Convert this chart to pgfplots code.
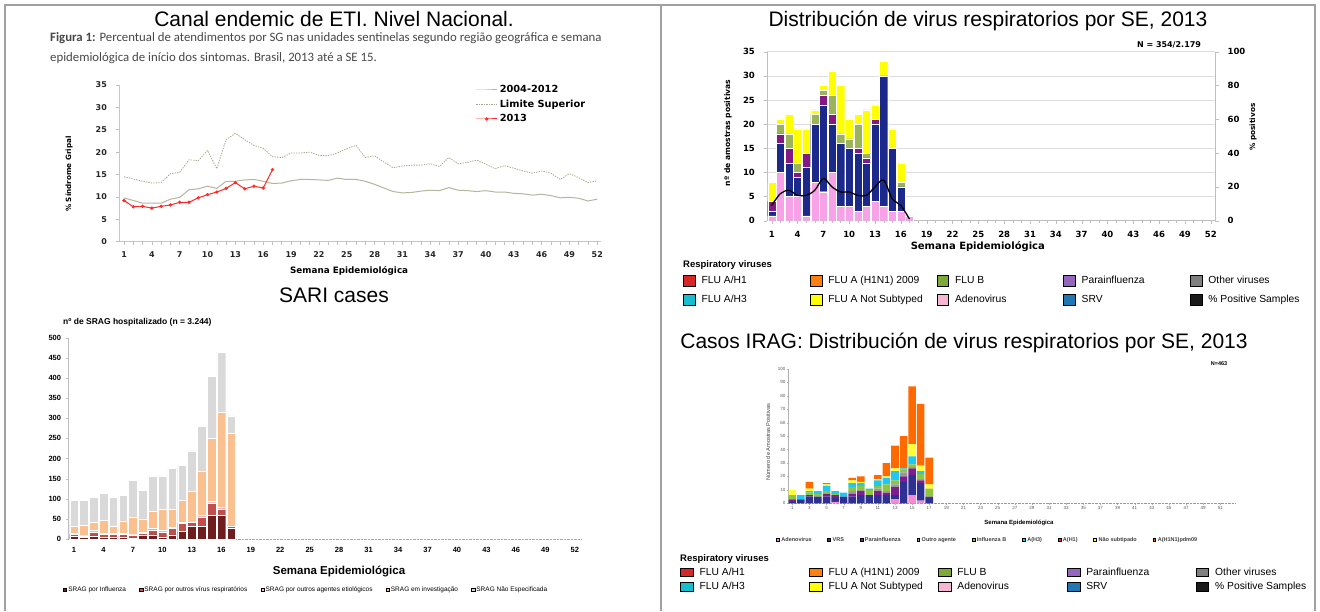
\documentclass[border=0pt]{standalone}
\usepackage{pgfplots}
\pgfplotsset{compat=1.18}
\usepackage{pgfplotstable}
\usepackage{fontspec}
\setmainfont{Liberation Sans}
\newfontfamily\carlito{Carlito}
\newfontfamily\dvs{DejaVu Sans}
\newcommand{\fs}[1]{\fontsize{#1}{#1}\selectfont}
\definecolor{avgc}{HTML}{B5B5A0}
\definecolor{limc}{HTML}{A8A68A}
\definecolor{redc}{HTML}{FF2A2A}
\definecolor{framec}{HTML}{A0A0A0}
\definecolor{sInf}{HTML}{6E1E1E}
\definecolor{sVir}{HTML}{C0504D}
\definecolor{sOag}{HTML}{F2C2C8}
\definecolor{sInv}{HTML}{FAC090}
\definecolor{sNao}{HTML}{D9D9D9}
\definecolor{tPink}{HTML}{F7A1E6}
\definecolor{tNavy}{HTML}{1B2A8A}
\definecolor{tPurp}{HTML}{831A83}
\definecolor{tGreen}{HTML}{9BB35A}
\definecolor{tYel}{HTML}{FFFF00}
\definecolor{lH1}{HTML}{D62728}
\definecolor{lPdm}{HTML}{FF7F0E}
\definecolor{lB}{HTML}{7FA83A}
\definecolor{lPara}{HTML}{9467BD}
\definecolor{lOth}{HTML}{808080}
\definecolor{lH3}{HTML}{17BECF}
\definecolor{lNS}{HTML}{FFFF00}
\definecolor{lAdeno}{HTML}{F7B6D2}
\definecolor{lSRV}{HTML}{1F77B4}
\definecolor{lPos}{HTML}{1A1A1A}
\definecolor{qAdeno}{HTML}{F58AD0}
\definecolor{qVRS}{HTML}{2E3192}
\definecolor{qPara}{HTML}{7B1F8E}
\definecolor{qOut}{HTML}{9A9A9A}
\definecolor{qB}{HTML}{8DC63F}
\definecolor{qH3}{HTML}{1EC8F0}
\definecolor{qH1}{HTML}{FF2020}
\definecolor{qNS}{HTML}{FFFF33}
\definecolor{qPdm}{HTML}{FF6A00}

\pgfplotstableread{
w avg lim
1 9.8 14.5
2 9.2 14.0
3 8.6 13.5
4 8.6 13.1
5 8.6 13.2
6 9.5 15.2
7 9.9 15.5
8 11.6 18.3
9 11.8 18.1
10 12.4 20.4
11 11.9 16.3
12 13.5 22.8
13 13.5 24.2
14 13.8 22.8
15 13.9 21.5
16 13.5 20.8
17 13.0 19.0
18 13.1 18.8
19 13.6 19.8
20 13.9 19.8
21 13.9 20.0
22 13.8 19.3
23 13.7 19.2
24 14.2 19.8
25 13.9 20.8
26 13.9 21.5
27 13.5 18.8
28 12.8 19.2
29 12.0 17.8
30 11.2 16.5
31 10.9 16.9
32 11.0 17.1
33 11.3 17.1
34 11.5 17.4
35 11.4 16.8
36 12.1 18.8
37 11.5 17.4
38 11.4 17.7
39 11.2 18.2
40 11.4 17.3
41 11.1 16.3
42 11.1 17.0
43 10.8 16.4
44 10.7 15.8
45 10.4 15.3
46 10.6 15.8
47 10.3 15.3
48 9.8 13.9
49 9.9 15.2
50 9.7 14.3
51 9.1 13.2
52 9.5 13.6
}\etiTab

\pgfplotstableread{
w v
1 9.2
2 7.8
3 7.9
4 7.5
5 7.9
6 8.2
7 8.8
8 8.8
9 9.8
10 10.5
11 11.1
12 11.9
13 13.2
14 11.8
15 12.4
16 12.0
17 16.1
}\etiRed

\pgfplotstableread{
w inf vir oag inv nao
1 6 6 3 18 63
2 4 4 2 24 62
3 8 10 3 21 61
4 4 8 2 33 67
5 5 7 2 19 70
6 5 7 2 31 63
7 3 7 2 43 91
8 9 5 3 33 71
9 10 13 3 43 88
10 5 13 4 52 83
11 10 16 3 46 100
12 19 20 2 55 87
13 32 9 2 75 101
14 32 23 4 110 112
15 59 30 5 157 153
16 59 16 3 237 149
17 27 6 2 227 44
}\sariTab

\pgfplotstableread{
w pink navy purp green yel pct
1 1 1 2 0 4 9
2 10 6 2 2 1 16
3 5 7 3 3 4 18
4 5 4 1 2 7 15
5 1 10 3 0 5 15
6 8 12 0 2 1 18
7 6 18 2 1 1 25
8 10 10 2 4 5 20
9 3 13 0 2 10 17
10 3 12 0 2 4 17
11 2 12 1 5 2 15
12 3 9 1 1 9 15
13 4 16 1 0 3 20
14 3 27 0 0 3 24
15 2 13 0 0 4 13
16 2 5 0 1 4 9
17 1 0 0 0 0 1
}\virTab

\pgfplotstableread{
w adeno vrs para outro flub hthree hone ns pdm
1 0 1 2 0 3 0 0 4 0
2 0 3 0 0 0 3 0 0 0
3 0 5 1 0 2 1 0 2 5
4 0 5 0 0 2 2 0 0 0
5 0 5 2 0 2 4 0 1 1
6 1 3 2 0 1 2 0 0 0
7 0 5 0 0 0 3 0 0 0
8 0 5 2 2 3 3 0 2 2
9 0 6 3 1 3 2 0 1 4
10 0 6 0 0 4 1 0 0 0
11 0 6 3 2 2 4 0 1 3
12 0 6 2 1 5 5 0 1 10
13 3 3 6 2 3 7 0 2 17
14 0 16 4 3 2 1 0 0 24
15 6 15 5 1 2 6 0 9 43
16 2 13 2 1 4 2 0 4 46
17 0 4 1 0 6 0 0 3 20
}\iragTab

\begin{document}
\begin{tikzpicture}[x=1pt,y=1pt]
\path[use as bounding box] (0,0) rectangle (1320,611);
\fill[white] (0,0) rectangle (1320,611);
\draw[framec, line width=2pt] (5,0) -- (5,606) -- (1315,606) -- (1315,0);
\draw[framec, line width=2pt] (661,0) -- (661,606);

% ---------- Titles and texts ----------
\node[font=\fs{21}, inner sep=0pt] at (334,592) {Canal endemic de ETI. Nivel Nacional.};
\node[anchor=west, font=\carlito\fs{12.8}, text=black!72, inner sep=0pt] at (50,573) {\textbf{Figura 1:} Percentual de atendimentos por SG nas unidades sentinelas segundo região geográfica e semana};
\node[anchor=west, font=\carlito\fs{12.8}, text=black!72, inner sep=0pt] at (50,553) {epidemiológica de início dos sintomas. Brasil, 2013 até a SE 15.};
\node[font=\fs{21}] at (334,316) {SARI cases};
\node[anchor=west, font=\bfseries\fs{8.5}, inner sep=0pt] at (63,289) {nº de SRAG hospitalizado (n = 3.244)};
\node[font=\fs{21}] at (988,590) {Distribución de virus respiratorios por SE, 2013};
\node[font=\dvs\bfseries\fs{8}] at (1169,566) {N = 354/2.179};
\node[font=\fs{21}] at (964,268) {Casos IRAG: Distribución de virus respiratorios por SE, 2013};
\node[font=\bfseries\fs{5.5}] at (1219,247) {N=463};
\node[anchor=west, font=\bfseries\fs{9.5}, inner sep=0pt] at (683,346) {Respiratory viruses};
\node[anchor=west, font=\bfseries\fs{9.5}, inner sep=0pt] at (680,52) {Respiratory viruses};

% ---------- Panel 1: ETI endemic channel ----------
\begin{axis}[
 at={(119.4pt,369.3pt)}, anchor=south west, scale only axis,
 width=481.6pt, height=156.7pt,
 xmin=0.5, xmax=52.4, ymin=0, ymax=35,
 axis lines=left, axis line style={draw=black!22,-},
 xtick={1,4,...,52}, ytick={0,5,...,35}, minor xtick={1,...,52},
 tick style={draw=black!25, line width=0.6pt},
 major tick length=3pt, minor tick length=3pt, tick align=outside,
 ticklabel style={font=\dvs\bfseries\fs{8}, text=black!85},
 /pgf/number format/assume math mode=true,
 xticklabel style={yshift=-3pt}, yticklabel style={xshift=-6pt},
 xlabel={Semana Epidemiológica}, ylabel={\% Síndrome Gripal},
 xlabel style={at={(axis description cs:0.477,-0.187)}, anchor=center, font=\dvs\bfseries\fs{8.8}},
 ylabel style={at={(axis description cs:-0.1047,0.432)}, anchor=center, font=\dvs\bfseries\fs{7.2}},
 legend style={at={(axis cs:38.88,35)}, anchor=north west, draw=none, fill=none,
   font=\dvs\bfseries\fs{9.8}, inner sep=0pt, row sep=4.9pt,
   nodes={inner sep=0pt, text height=7.4pt, text depth=2.2pt},
   /tikz/every odd column/.append style={column sep=2pt}},
 legend cell align=left,
 legend image code/.code={\draw[mark repeat=2,mark phase=2,#1] plot coordinates {(0pt,0pt) (10.5pt,0pt) (21pt,0pt)};},
]
\addplot[avgc, line width=1pt] table[x=w,y=avg]{\etiTab};
\addlegendentry{2004-2012}
\addplot[limc, line width=0.8pt, dash pattern=on 1.3pt off 1.2pt] table[x=w,y=lim]{\etiTab};
\addlegendentry{Limite Superior}
\addplot[redc, line width=1pt, mark=*, mark size=1.1pt, mark options={fill=redc}] table[x=w,y=v]{\etiRed};
\addlegendentry{2013}
\end{axis}

% ---------- Panel 2: SARI cases ----------
\begin{axis}[
 at={(68.1pt,72pt)}, anchor=south west, scale only axis,
 width=512.6pt, height=201.3pt,
 xmin=0.4, xmax=52.6, ymin=0, ymax=500,
 ybar stacked, bar width=0.88,
 axis x line=bottom, axis y line=left,
 x axis line style={draw=black!35, densely dotted,-},
 y axis line style={draw=black!25,-},
 xtick={1,4,...,52}, ytick={0,50,...,500},
 xtick style={draw=none}, ytick style={draw=black!25},
 major tick length=2.5pt, tick align=outside,
 ticklabel style={font=\bfseries\fs{7.5}},
 /pgf/number format/assume math mode=true,
 xticklabel style={yshift=-2pt}, yticklabel style={xshift=-1pt},
 xlabel={Semana Epidemiológica},
 xlabel style={at={(axis description cs:0.5285,-0.159)}, anchor=center, font=\bfseries\fs{11.5}},
]
\addplot[fill=sInf, draw=white, line width=0.2pt] table[x=w,y=inf]{\sariTab};
\addplot[fill=sVir, draw=white, line width=0.2pt] table[x=w,y=vir]{\sariTab};
\addplot[fill=sOag, draw=white, line width=0.2pt] table[x=w,y=oag]{\sariTab};
\addplot[fill=sInv, draw=white, line width=0.2pt] table[x=w,y=inv]{\sariTab};
\addplot[fill=sNao, draw=white, line width=0.2pt] table[x=w,y=nao]{\sariTab};
\end{axis}

% legend panel 2
\begin{axis}[hide axis, at={(0pt,0pt)}, anchor=south west, scale only axis,
 width=1320pt, height=611pt, xmin=0, xmax=1320, ymin=0, ymax=611,
 legend columns=5,
 legend image code/.code={\fill[#1] (0pt,-1.6pt) rectangle (3.2pt,1.6pt);},
 legend style={at={(axis cs:63,21)}, anchor=west, draw=none, fill=none, inner sep=0pt,
   font=\fs{6.5}, nodes={inner sep=0pt, text height=4.7pt, text depth=1pt},
   /tikz/every odd column/.append style={column sep=1.5pt},
   /tikz/every even column/.append style={column sep=13.2pt}},
 legend cell align=left]
\addlegendimage{fill=sInf}\addlegendentry{SRAG por Influenza}
\addlegendimage{fill=sVir}\addlegendentry{SRAG por outros vírus respiratórios}
\addlegendimage{fill=sOag}\addlegendentry{SRAG por outros agentes etiológicos}
\addlegendimage{fill=sInv}\addlegendentry{SRAG em investigação}
\addlegendimage{fill=sNao}\addlegendentry{SRAG Não Especificada}
\end{axis}

% ---------- Panel 3: virus distribution ----------
\begin{axis}[
 at={(767.4pt,390.3pt)}, anchor=south west, scale only axis,
 width=447.7pt, height=169pt,
 xmin=0.5, xmax=52.5, ymin=0, ymax=35,
 ybar stacked, bar width=0.94,
 axis x line=bottom, axis y line=left,
 axis line style={draw=black!25,-},
 ymajorgrids, grid style={draw=black!13, line width=0.6pt},
 xtick={1,4,...,52}, ytick={0,5,...,35}, minor xtick={1,...,52},
 tick style={draw=black!25}, tick align=outside,
 major tick length=3pt, minor tick length=2pt,
 ticklabel style={font=\dvs\bfseries\fs{8.5}},
 /pgf/number format/assume math mode=true,
 xticklabel style={yshift=-4pt}, yticklabel style={xshift=-6pt},
 xlabel={Semana Epidemiológica}, ylabel={nº de amostras positivas},
 xlabel style={at={(axis description cs:0.470,-0.156)}, anchor=center, font=\dvs\bfseries\fs{10}},
 ylabel style={at={(axis description cs:-0.088,0.519)}, anchor=center, font=\dvs\bfseries\fs{7.6}},
]
\addplot[fill=tPink, draw=white, line width=0.2pt] table[x=w,y=pink]{\virTab};
\addplot[fill=tNavy, draw=white, line width=0.2pt] table[x=w,y=navy]{\virTab};
\addplot[fill=tPurp, draw=white, line width=0.2pt] table[x=w,y=purp]{\virTab};
\addplot[fill=tGreen, draw=white, line width=0.2pt] table[x=w,y=green]{\virTab};
\addplot[fill=tYel, draw=white, line width=0.2pt] table[x=w,y=yel]{\virTab};
\end{axis}
\begin{axis}[
 at={(767.4pt,390.3pt)}, anchor=south west, scale only axis,
 width=447.7pt, height=169pt,
 xmin=0.5, xmax=52.5, ymin=0, ymax=100,
 axis y line*=right, axis x line=none,
 y axis line style={draw=black!25,-},
 ytick={0,20,...,100}, ytick style={draw=black!25}, tick align=outside, major tick length=4pt,
 ticklabel style={font=\dvs\bfseries\fs{8.5}},
 /pgf/number format/assume math mode=true,
 yticklabel style={xshift=5pt},
 ylabel={\% positivos},
 ylabel style={at={(axis description cs:1.0847,0.554)}, anchor=center, font=\dvs\bfseries\fs{7.3}},
]
\addplot[black, line width=1.3pt, smooth, tension=0.5] table[x=w,y=pct]{\virTab};
\end{axis}

% legend 1
\begin{axis}[hide axis, at={(0pt,0pt)}, anchor=south west, scale only axis,
 width=1320pt, height=611pt, xmin=0, xmax=1320, ymin=0, ymax=611,
 legend columns=5,
 legend image code/.code={\fill[#1] (0pt,-5.6pt) rectangle (11.8pt,5.6pt);},
 legend style={at={(axis cs:683,336.6)}, anchor=north west, draw=none, fill=none, inner sep=0pt,
   font=\fs{10.3}, row sep=7.8pt, nodes={inner sep=0pt, text height=7.4pt, text depth=1.6pt},
   /tikz/every odd column/.append style={column sep=6.2pt}},
 legend cell align=left]
\addlegendimage{fill=lH1}\addlegendentry{\makebox[108.3pt][l]{FLU A/H1}}
\addlegendimage{fill=lPdm}\addlegendentry{\makebox[108.3pt][l]{FLU A (H1N1) 2009}}
\addlegendimage{fill=lB}\addlegendentry{\makebox[108.3pt][l]{FLU B}}
\addlegendimage{fill=lPara}\addlegendentry{\makebox[108.3pt][l]{Parainfluenza}}
\addlegendimage{fill=lOth}\addlegendentry{\makebox[108.3pt][l]{Other viruses}}
\addlegendimage{fill=lH3}\addlegendentry{\makebox[108.3pt][l]{FLU A/H3}}
\addlegendimage{fill=lNS}\addlegendentry{\makebox[108.3pt][l]{FLU A Not Subtyped}}
\addlegendimage{fill=lAdeno}\addlegendentry{\makebox[108.3pt][l]{Adenovirus}}
\addlegendimage{fill=lSRV}\addlegendentry{\makebox[108.3pt][l]{SRV}}
\addlegendimage{fill=lPos}\addlegendentry{\makebox[108.3pt][l]{\% Positive Samples}}
\end{axis}

% ---------- Panel 4: IRAG ----------
\begin{axis}[
 at={(788pt,107.7pt)}, anchor=south west, scale only axis,
 width=446.8pt, height=134.3pt,
 xmin=0.5, xmax=52.7, ymin=0, ymax=100,
 ybar stacked, bar width=0.88,
 axis x line=bottom, axis y line=left,
 x axis line style={draw=black!40, densely dotted,-},
 y axis line style={draw=black!30,-},
 xtick={1,3,...,51}, ytick={0,10,...,100},
 tick style={draw=black!30}, tick align=outside, major tick length=1.5pt,
 ticklabel style={font=\fs{4.5}, text=black!65, inner sep=1pt},
 /pgf/number format/assume math mode=true,
 xlabel={Semana Epidemiológica}, ylabel={Número de Amostras Positivas},
 xlabel style={at={(axis description cs:0.517,-0.147)}, anchor=center, font=\bfseries\fs{6}},
 ylabel style={at={(axis description cs:-0.0448,0.456)}, anchor=center, font=\fs{5.6}, text=black!75},
]
\addplot[fill=qAdeno, draw=none] table[x=w,y=adeno]{\iragTab};
\addplot[fill=qVRS, draw=none] table[x=w,y=vrs]{\iragTab};
\addplot[fill=qPara, draw=none] table[x=w,y=para]{\iragTab};
\addplot[fill=qOut, draw=none] table[x=w,y=outro]{\iragTab};
\addplot[fill=qB, draw=none] table[x=w,y=flub]{\iragTab};
\addplot[fill=qH3, draw=none] table[x=w,y=hthree]{\iragTab};
\addplot[fill=qH1, draw=none] table[x=w,y=hone]{\iragTab};
\addplot[fill=qNS, draw=none] table[x=w,y=ns]{\iragTab};
\addplot[fill=qPdm, draw=none] table[x=w,y=pdm]{\iragTab};
\end{axis}

% inner legend panel 4
\begin{axis}[hide axis, at={(0pt,0pt)}, anchor=south west, scale only axis,
 width=1320pt, height=611pt, xmin=0, xmax=1320, ymin=0, ymax=611,
 legend columns=9,
 legend image code/.code={\fill[#1] (0pt,-1.4pt) rectangle (2.8pt,1.4pt);},
 legend style={at={(axis cs:776,71)}, anchor=west, draw=none, fill=none, inner sep=0pt,
   font=\bfseries\fs{5.5}, nodes={inner sep=0pt, text=black!75, text height=4pt, text depth=0.9pt},
   /tikz/every odd column/.append style={column sep=2pt},
   /tikz/every even column/.append style={column sep=15.8pt}},
 legend cell align=left]
\addlegendimage{fill=qAdeno}\addlegendentry{Adenovirus}
\addlegendimage{fill=qVRS}\addlegendentry{VRS}
\addlegendimage{fill=qPara}\addlegendentry{Parainfluenza}
\addlegendimage{fill=qOut}\addlegendentry{Outro agente}
\addlegendimage{fill=qB}\addlegendentry{Influenza B}
\addlegendimage{fill=qH3}\addlegendentry{A(H3)}
\addlegendimage{fill=qH1}\addlegendentry{A(H1)}
\addlegendimage{fill=qNS}\addlegendentry{Não subtipado}
\addlegendimage{fill=qPdm}\addlegendentry{A(H1N1)pdm09}
\end{axis}

% legend 2
\begin{axis}[hide axis, at={(0pt,0pt)}, anchor=south west, scale only axis,
 width=1320pt, height=611pt, xmin=0, xmax=1320, ymin=0, ymax=611,
 legend columns=5,
 legend image code/.code={\fill[#1] (0pt,-4.35pt) rectangle (12.6pt,4.35pt);},
 legend style={at={(axis cs:680,43.65)}, anchor=north west, draw=none, fill=none, inner sep=0pt,
   font=\fs{10.3}, row sep=5.3pt, nodes={inner sep=0pt, text height=7.4pt, text depth=1.6pt},
   /tikz/every odd column/.append style={column sep=6.4pt}},
 legend cell align=left]
\addlegendimage{fill=lH1}\addlegendentry{\makebox[109.5pt][l]{FLU A/H1}}
\addlegendimage{fill=lPdm}\addlegendentry{\makebox[109.5pt][l]{FLU A (H1N1) 2009}}
\addlegendimage{fill=lB}\addlegendentry{\makebox[109.5pt][l]{FLU B}}
\addlegendimage{fill=lPara}\addlegendentry{\makebox[109.5pt][l]{Parainfluenza}}
\addlegendimage{fill=lOth}\addlegendentry{\makebox[109.5pt][l]{Other viruses}}
\addlegendimage{fill=lH3}\addlegendentry{\makebox[109.5pt][l]{FLU A/H3}}
\addlegendimage{fill=lNS}\addlegendentry{\makebox[109.5pt][l]{FLU A Not Subtyped}}
\addlegendimage{fill=lAdeno}\addlegendentry{\makebox[109.5pt][l]{Adenovirus}}
\addlegendimage{fill=lSRV}\addlegendentry{\makebox[109.5pt][l]{SRV}}
\addlegendimage{fill=lPos}\addlegendentry{\makebox[109.5pt][l]{\% Positive Samples}}
\end{axis}
\end{tikzpicture}
\end{document}
